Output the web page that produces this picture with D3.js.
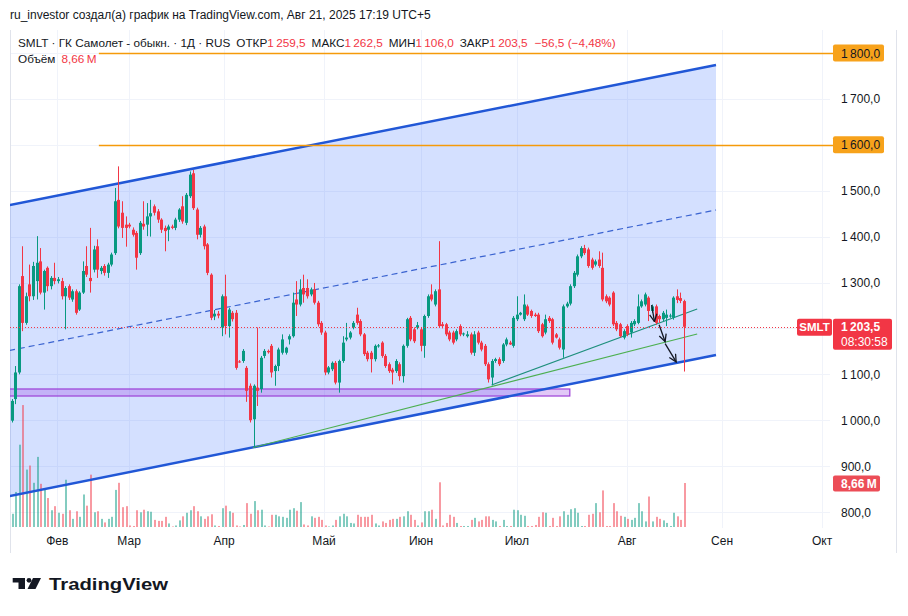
<!DOCTYPE html>
<html>
<head>
<meta charset="utf-8">
<script src="https://d3js.org/d3.v7.min.js"></script>
<style>
  body { margin: 0; background: #fff; }
  svg text { font-family: "Liberation Sans", Arial, sans-serif; }
</style>
</head>
<body>
<div id="chart"></div>
<script>
// daily bars, [open, high, low, close]
var candles = [
  [999,1046,995,1042],[1046,1118,1035,1104],[1104,1296,1100,1292],[1314,1379,1194,1212],[1212,1278,1208,1270],
  [1296,1339,1259,1270],[1270,1345,1262,1336],[1303,1401,1263,1343],[1346,1375,1274,1278],[1278,1328,1241,1325],
  [1332,1335,1281,1292],[1292,1314,1285,1310],[1310,1343,1296,1303],[1303,1312,1298,1307],[1303,1310,1263,1270],
  [1270,1292,1198,1288],[1292,1296,1262,1267],[1263,1285,1258,1281],[1281,1285,1230,1234],[1241,1281,1238,1278],
  [1278,1346,1275,1325],[1336,1379,1312,1317],[1310,1419,1278,1303],[1328,1380,1322,1372],[1379,1394,1310,1328],
  [1325,1336,1318,1332],[1336,1340,1315,1321],[1321,1343,1310,1339],[1339,1365,1335,1361],[1364,1506,1360,1477],
  [1480,1553,1418,1422],[1452,1477,1397,1419],[1426,1444,1378,1419],[1426,1430,1418,1422],[1415,1420,1400,1404],
  [1408,1412,1328,1354],[1364,1434,1360,1430],[1428,1477,1415,1422],[1426,1473,1401,1444],[1444,1480,1400,1451],
  [1466,1470,1446,1452],[1455,1460,1430,1437],[1437,1440,1408,1415],[1419,1424,1368,1412],[1415,1426,1390,1422],
  [1422,1426,1416,1419],[1419,1441,1414,1437],[1437,1462,1432,1459],[1466,1488,1428,1433],[1430,1495,1425,1491],
  [1488,1542,1484,1535],[1538,1545,1458,1462],[1459,1463,1394,1404],[1404,1423,1398,1419],[1422,1426,1372,1379],
  [1383,1386,1316,1321],[1317,1320,1218,1223],[1226,1240,1218,1232],[1232,1238,1222,1228],[1202,1274,1183,1270],
  [1270,1317,1187,1205],[1205,1245,1180,1241],[1234,1238,1215,1220],[1234,1240,1110,1114],[1128,1131,1125,1127],
  [1129,1155,1125,1151],[1114,1118,1040,1064],[1075,1080,995,1000],[1002,1078,941,1075],[1071,1202,1031,1064],
  [1068,1140,1060,1136],[1140,1155,1135,1151],[1151,1154,1145,1148],[1162,1166,1093,1104],[1107,1121,1075,1118],
  [1118,1158,1107,1154],[1147,1187,1143,1176],[1147,1160,1143,1158],[1176,1187,1165,1183],[1183,1278,1180,1256],
  [1263,1303,1227,1252],[1252,1307,1248,1285],[1288,1317,1256,1274],[1288,1307,1265,1270],[1274,1289,1270,1285],
  [1285,1299,1252,1256],[1256,1260,1204,1209],[1212,1216,1186,1191],[1191,1195,1098,1104],[1104,1118,1100,1115],
  [1111,1128,1107,1125],[1125,1129,1078,1082],[1082,1132,1060,1129],[1129,1183,1125,1169],[1176,1212,1172,1180],
  [1180,1194,1176,1191],[1202,1216,1198,1212],[1230,1245,1208,1212],[1216,1220,1183,1187],[1187,1190,1140,1144],
  [1147,1151,1128,1133],[1147,1151,1104,1133],[1133,1165,1128,1162],[1162,1166,1158,1163],[1169,1172,1136,1140],
  [1140,1144,1114,1118],[1122,1126,1103,1107],[1110,1114,1078,1104],[1107,1133,1103,1129],[1122,1126,1086,1096],
  [1096,1165,1082,1162],[1162,1223,1158,1220],[1223,1227,1172,1176],[1198,1202,1168,1172],[1202,1214,1198,1207],
  [1198,1202,1150,1162],[1162,1230,1136,1227],[1227,1274,1223,1270],[1274,1296,1259,1263],[1252,1285,1248,1281],
  [1285,1390,1201,1205],[1209,1214,1200,1205],[1209,1212,1183,1187],[1191,1195,1172,1176],[1191,1195,1165,1169],
  [1176,1198,1172,1194],[1205,1209,1183,1187],[1187,1191,1183,1189],[1183,1194,1180,1187],[1187,1191,1143,1147],
  [1147,1194,1140,1187],[1191,1195,1165,1169],[1169,1173,1150,1154],[1162,1166,1118,1122],[1122,1126,1082,1089],
  [1093,1133,1076,1129],[1129,1136,1125,1133],[1133,1137,1118,1122],[1129,1168,1125,1165],[1165,1180,1161,1176],
  [1169,1173,1164,1165],[1162,1227,1158,1223],[1220,1270,1216,1230],[1230,1236,1228,1234],[1220,1274,1216,1252],
  [1248,1252,1227,1230],[1238,1241,1223,1227],[1230,1234,1225,1227],[1230,1234,1190,1194],[1209,1212,1180,1183],
  [1191,1230,1187,1220],[1223,1227,1212,1216],[1220,1223,1165,1169],[1187,1190,1178,1180],[1176,1180,1154,1158],
  [1154,1252,1136,1248],[1248,1258,1245,1254],[1254,1296,1250,1292],[1292,1325,1288,1321],[1317,1361,1313,1357],
  [1357,1379,1353,1375],[1375,1382,1360,1364],[1372,1376,1332,1336],[1350,1354,1328,1332],[1339,1350,1335,1346],
  [1350,1368,1332,1336],[1332,1365,1259,1263],[1270,1274,1255,1259],[1267,1270,1248,1252],[1278,1281,1205,1209],
  [1212,1216,1194,1198],[1209,1212,1180,1183],[1180,1198,1176,1194],[1205,1209,1183,1187],[1191,1216,1180,1212],
  [1209,1220,1205,1216],[1212,1274,1209,1248],[1248,1263,1245,1259],[1252,1278,1248,1274],[1267,1270,1216,1238],
  [1238,1252,1234,1248],[1248,1252,1208,1212],[1227,1230,1212,1220],[1220,1238,1216,1234],[1223,1241,1205,1230],
  [1227,1232,1223,1228],[1223,1270,1219,1267],[1270,1285,1255,1262],[1266,1278,1255,1260],[1259.5,1262.5,1106,1203.5]
];

// volume, millions
var volumes = [
  2.6,6.9,16.2,24,11.3,12.1,8.7,13.8,8.5,7.3,
  5.7,3.3,4.1,2.8,2.6,9.3,3.3,1.6,3.1,2.0,
  6.4,4.2,10.3,2.9,3.1,1.6,0.9,1.6,2.0,7.3,
  8.7,3.9,4.1,0.3,0.2,3.3,2.9,3.4,3.1,3.0,
  1.4,1.2,1.2,2.0,0.7,0.1,0.3,1.3,2.1,2.8,
  3.3,4.1,3.1,2.1,1.6,2.1,2.5,0.3,0.2,3.7,
  4.2,3.1,2.8,0.3,0.1,0.4,4.7,2.6,5.1,3.3,
  3.4,0.3,0.1,2.4,2.4,2.1,2.0,1.8,3.4,3.7,
  3.2,4.9,0.5,0.3,2.1,1.8,2.0,1.4,0.3,0.1,
  0.3,1.4,2.1,2.6,2.1,0.8,0.7,2.4,2.0,2.0,
  2.0,2.4,0.7,0.3,1.1,0.8,1.4,1.6,1.6,2.0,
  2.1,3.1,2.4,1.4,0.3,0.9,3.1,3.1,3.4,1.6,
  8.8,0.3,0.8,2.4,2.0,
  0.8,0.2,0.2,0.2,1.4,1.8,1.1,1.4,2.1,2.1,
  1.4,1.1,0.2,1.4,0.2,0.2,3.4,3.3,2.4,2.2,
  0.2,0.2,0.4,2.0,2.9,2.8,0.2,1.8,0.2,2.1,
  3.1,2.4,3.5,3.7,2.8,0.2,0.2,2.4,2.6,4.7,
  2.9,7.2,0.2,0.2,4.7,3.1,2.2,2.0,1.6,1.4,
  1.8,4.7,3.1,1.1,6.0,1.1,2.0,1.6,1.3,0.8,
  0.2,2.8,2.1,1.4,8.66
];

var monthLabels = ["Фев", "Мар", "Апр", "Май", "Июн", "Июл", "Авг", "Сен", "Окт"];
var monthBars = [12.8, 33, 59.7, 87.8, 115.1, 142, 173, 199.7, 227.8];
var priceTicks = [800, 900, 1000, 1100, 1200, 1300, 1400, 1500, 1600, 1700, 1800];

// drawings, in bar index / price
var channelBars = [-0.5, 198];
var channelTop = [1469, 1774];
var channelBottom = [835, 1142];
var levels = [1800, 1600];
var levelStart = 24.5;
var zoneBars = [-5, 156.9];
var zonePrices = [1052.7, 1068];
var trendLines = [
  {from: [67.8, 940.5], to: [192.7, 1187.8], color: "#4caf50"},
  {from: [134.9, 1076.7], to: [192.7, 1242.3], color: "#1e8f7c"}
];
var arrows = [
  [[179.9, 1251], [180.7, 1215]],
  [[182.0, 1208], [183.7, 1171]],
  [[183.7, 1167], [186.8, 1127]]
];

var up = "#089981", down = "#f23645";
var upVol = "rgba(8,153,129,0.5)", downVol = "rgba(242,54,69,0.5)";

var loc = d3.formatLocale({decimal: ",", thousands: "\u2009", grouping: [3], currency: ["", ""]});
var fmt = loc.format(",.1f");

var svg = d3.select("#chart").append("svg").attr("width", 908).attr("height", 616);

var x = d3.scaleLinear().domain([0, candles.length - 1]).range([11.7, 684]);
var y = d3.scaleLinear().domain([800, 1800]).range([512, 53]);
var yv = d3.scaleLinear().domain([0, 10]).range([527, 476.2]);
var px = function(i) { return Math.round(x(i)); };

svg.append("defs").append("clipPath").attr("id", "pane")
  .append("rect").attr("x", 10).attr("y", 30).attr("width", 820).attr("height", 498);

// grid
svg.append("g").selectAll("line").data(priceTicks).join("line")
  .attr("x1", 10).attr("x2", 830)
  .attr("y1", function(d) { return Math.round(y(d)) + 0.5; })
  .attr("y2", function(d) { return Math.round(y(d)) + 0.5; })
  .attr("stroke", "#f0f3fa");
svg.append("g").selectAll("line").data(monthBars).join("line")
  .attr("x1", function(d) { return Math.round(x(d)) + 0.5; })
  .attr("x2", function(d) { return Math.round(x(d)) + 0.5; })
  .attr("y1", 30).attr("y2", 528)
  .attr("stroke", "#f0f3fa");
svg.append("line").attr("x1", 10.5).attr("x2", 10.5).attr("y1", 30).attr("y2", 553).attr("stroke", "#e0e3eb");
svg.append("line").attr("x1", 896.5).attr("x2", 896.5).attr("y1", 30).attr("y2", 553).attr("stroke", "#e0e3eb");

var pane = svg.append("g").attr("clip-path", "url(#pane)");

// channel fill
var chPts = [
  [x(channelBars[0] - 3), y(channelTop[0] - 3 * (channelTop[1] - channelTop[0]) / (channelBars[1] - channelBars[0]))],
  [x(channelBars[1]), y(channelTop[1])],
  [x(channelBars[1]), y(channelBottom[1])],
  [x(channelBars[0] - 3), y(channelBottom[0] - 3 * (channelBottom[1] - channelBottom[0]) / (channelBars[1] - channelBars[0]))]
];
pane.append("path").attr("d", d3.line()(chPts) + "Z").attr("fill", "rgba(41,98,255,0.2)");

// volume
pane.append("g").selectAll("rect").data(volumes).join("rect")
  .attr("x", function(d, i) { return px(i); })
  .attr("width", 2)
  .attr("y", function(d) { return yv(d); })
  .attr("height", function(d) { return yv(0) - yv(d); })
  .attr("fill", function(d, i) { return candles[i][3] >= candles[i][0] ? upVol : downVol; });

// zone
pane.append("rect")
  .attr("x", x(zoneBars[0])).attr("width", x(zoneBars[1]) - x(zoneBars[0]))
  .attr("y", y(zonePrices[1])).attr("height", y(zonePrices[0]) - y(zonePrices[1]))
  .attr("fill", "rgba(156,72,230,0.3)").attr("stroke", "#9c3fd6").attr("stroke-width", 1.2);

// channel lines
var edge = function(p) {
  var k = (p[1] - p[0]) / (channelBars[1] - channelBars[0]);
  return [[x(channelBars[0] - 3), y(p[0] - 3 * k)], [x(channelBars[1]), y(p[1])]];
};
[channelTop, channelBottom].forEach(function(p) {
  pane.append("path").attr("d", d3.line()(edge(p)))
    .attr("stroke", "#2157d6").attr("stroke-width", 2.5).attr("fill", "none");
});
var mid = [(channelTop[0] + channelBottom[0]) / 2, (channelTop[1] + channelBottom[1]) / 2];
pane.append("path").attr("d", d3.line()(edge(mid)))
  .attr("stroke", "#3a63d0").attr("stroke-width", 1.2).attr("stroke-dasharray", "6,4").attr("fill", "none");

// trend lines
pane.append("g").selectAll("line").data(trendLines).join("line")
  .attr("x1", function(d) { return x(d.from[0]); }).attr("y1", function(d) { return y(d.from[1]); })
  .attr("x2", function(d) { return x(d.to[0]); }).attr("y2", function(d) { return y(d.to[1]); })
  .attr("stroke", function(d) { return d.color; }).attr("stroke-width", 1.1);

// candles
var cg = pane.append("g");
cg.selectAll("line").data(candles).join("line")
  .attr("x1", function(d, i) { return px(i) + 0.5; })
  .attr("x2", function(d, i) { return px(i) + 0.5; })
  .attr("y1", function(d) { return y(d[1]); })
  .attr("y2", function(d) { return y(d[2]); })
  .attr("stroke", function(d) { return d[3] >= d[0] ? up : down; });
cg.selectAll("rect").data(candles).join("rect")
  .attr("x", function(d, i) { return px(i) - 1; })
  .attr("width", 3)
  .attr("y", function(d) { return y(Math.max(d[0], d[3])); })
  .attr("height", function(d) { return Math.max(1, Math.abs(y(d[0]) - y(d[3]))); })
  .attr("fill", function(d) { return d[3] >= d[0] ? up : down; });

// horizontal levels
svg.append("g").selectAll("line").data(levels).join("line")
  .attr("x1", x(levelStart)).attr("x2", 833)
  .attr("y1", function(d) { return Math.round(y(d)) + 0.5; })
  .attr("y2", function(d) { return Math.round(y(d)) + 0.5; })
  .attr("stroke", "#f59a0a").attr("stroke-width", 1.3);

// last price line
var last = candles[candles.length - 1];
var prev = candles[candles.length - 2];
svg.append("line").attr("x1", 10).attr("x2", 797)
  .attr("y1", Math.round(y(last[3])) + 0.5).attr("y2", Math.round(y(last[3])) + 0.5)
  .attr("stroke", down).attr("stroke-dasharray", "1,2");

// arrows
svg.append("defs").append("marker").attr("id", "head")
  .attr("viewBox", "0 0 10 10").attr("refX", 9).attr("refY", 5)
  .attr("markerWidth", 7).attr("markerHeight", 7).attr("orient", "auto")
  .append("path").attr("d", "M1,1 L9,5 L1,9").attr("fill", "none").attr("stroke", "#131722").attr("stroke-width", 1.4);
svg.append("g").selectAll("line").data(arrows).join("line")
  .attr("x1", function(d) { return x(d[0][0]); }).attr("y1", function(d) { return y(d[0][1]); })
  .attr("x2", function(d) { return x(d[1][0]); }).attr("y2", function(d) { return y(d[1][1]); })
  .attr("stroke", "#131722").attr("stroke-width", 1.3).attr("marker-end", "url(#head)");

// price axis
svg.append("g").selectAll("text").data(priceTicks.filter(function(d) { return levels.indexOf(d) < 0 && d !== 1200; })).join("text")
  .attr("x", 841).attr("y", function(d) { return y(d) + 4.5; })
  .attr("font-size", 12).attr("fill", "#131722")
  .text(function(d) { return fmt(d); });

levels.forEach(function(d) {
  svg.append("rect").attr("x", 833).attr("y", y(d) - 8.5).attr("width", 51).attr("height", 17)
    .attr("rx", 2).attr("fill", "#f7a21b");
  svg.append("text").attr("x", 841).attr("y", y(d) + 4.5).attr("font-size", 12).attr("fill", "#131722").text(fmt(d));
});

// time axis
svg.append("g").selectAll("text").data(monthLabels).join("text")
  .attr("x", function(d, i) { return x(monthBars[i]); }).attr("y", 545)
  .attr("text-anchor", "middle").attr("font-size", 12).attr("fill", "#131722")
  .text(function(d) { return d; });

// last price tags
var ly = y(last[3]);
svg.append("rect").attr("x", 797).attr("y", ly - 8).attr("width", 35).attr("height", 17).attr("rx", 2).attr("fill", down);
svg.append("text").attr("x", 814.5).attr("y", ly + 4.5).attr("text-anchor", "middle")
  .attr("font-size", 11.5).attr("font-weight", "bold").attr("fill", "#fff").text("SMLT");
svg.append("rect").attr("x", 833).attr("y", ly - 8).attr("width", 59).attr("height", 31).attr("rx", 2).attr("fill", down);
svg.append("text").attr("x", 841).attr("y", ly + 4.5).attr("font-size", 12).attr("font-weight", "bold").attr("fill", "#fff").text(fmt(last[3]));
svg.append("text").attr("x", 841).attr("y", ly + 19).attr("font-size", 12).attr("fill", "#fff").text("08:30:58");

var lastVol = volumes[volumes.length - 1];
var volText = loc.format(".2f")(lastVol) + "\u2009M";
svg.append("rect").attr("x", 833).attr("y", yv(lastVol) - 7.5).attr("width", 47).attr("height", 16).attr("rx", 2).attr("fill", "#ec4d57");
svg.append("text").attr("x", 841).attr("y", yv(lastVol) + 4.5).attr("font-size", 12).attr("font-weight", "bold").attr("fill", "#fff").text(volText);

// header
svg.append("text").attr("x", 10).attr("y", 19).attr("font-size", 12).attr("fill", "#131722")
  .text("ru_investor создал(а) график на TradingView.com, Авг 21, 2025 17:19 UTC+5");

var chg = last[3] - prev[3];
var legend = svg.append("text").attr("x", 18).attr("y", 47).attr("font-size", 11.75).attr("fill", "#131722");
legend.append("tspan").text("SMLT · ГК Самолет - обыкн. · 1Д · RUS");
[["ОТКР", last[0]], ["МАКС", last[1]], ["МИН", last[2]], ["ЗАКР", last[3]]].forEach(function(p) {
  legend.append("tspan").attr("dx", 6).text(p[0]);
  legend.append("tspan").attr("fill", down).text(fmt(p[1]));
});
legend.append("tspan").attr("dx", 7).attr("fill", down)
  .text(fmt(chg).replace("-", "\u2212") + " (" + loc.format(".2f")(chg / prev[3] * 100).replace("-", "\u2212") + "%)");

var vlegend = svg.append("text").attr("x", 18).attr("y", 63).attr("font-size", 11.75).attr("fill", "#131722");
vlegend.append("tspan").text("Объём");
vlegend.append("tspan").attr("dx", 6).attr("fill", down).text(volText);

// logo
var logo = svg.append("g").attr("fill", "#131722");
logo.append("path").attr("d", "M12.7,578 H25 V589 H18.5 V582.6 H12.7 Z");
logo.append("circle").attr("cx", 29).attr("cy", 580.3).attr("r", 2.4);
logo.append("path").attr("d", "M33,578 H41 L35.5,589 H27.5 Z");
svg.append("text").attr("x", 49).attr("y", 589.5).attr("font-family", "Inter, sans-serif")
  .attr("font-size", 17).attr("font-weight", 700).attr("fill", "#131722")
  .attr("textLength", 119).attr("lengthAdjust", "spacingAndGlyphs").text("TradingView");
</script>
</body>
</html>
